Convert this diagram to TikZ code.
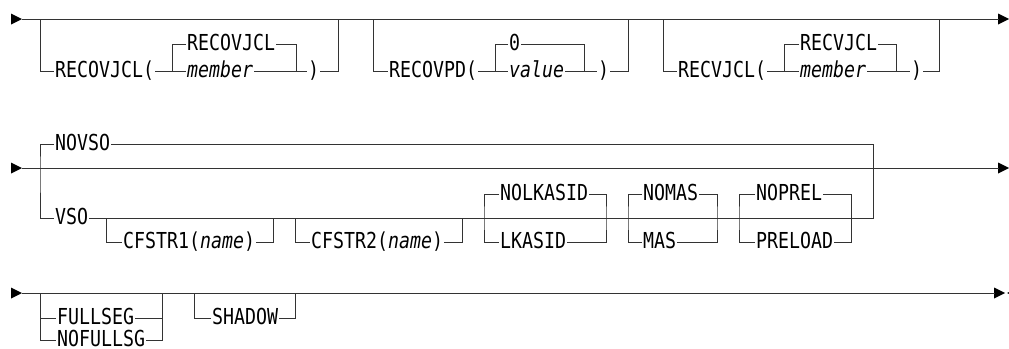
\documentclass[tikz,border=0pt]{standalone}
\usepackage{fontspec}
\newfontfamily\rrfont[FakeStretch=0.83]{DejaVu Sans Mono}
\begin{document}
\begin{tikzpicture}[x=1pt,y=-1pt,
  rr/.style={line width=0.9pt, draw=black!80},
  kw/.style={font=\rrfont\fontsize{22}{22}\selectfont, inner sep=0pt, outer sep=1.2pt,
             text height=12pt, text depth=0pt, anchor=west},
  tri/.pic={\fill[black] (-11,-5.5) -- (0,0) -- (-11,5.5) -- cycle;},
  tril/.pic={\fill[black] (11,-5.5) -- (0,0) -- (11,5.5) -- cycle;}]
\useasboundingbox (0,0) rectangle (1009,348);

% ================= Row 1 =================
\coordinate (s1) at (22,19);
\coordinate (e1) at (999,19);
\pic at (22,19) {tri};
\pic at (1009,19) {tri};
\draw[rr] (s1) -- (e1);

% --- RECOVJCL(...) ---
\coordinate (al) at (40,19);  \coordinate (ar) at (338,19);
\coordinate (ail) at (172,44); \coordinate (air) at (296,44);
\node[kw] (aopen)  at (54,71)  {RECOVJCL(};
\node[kw] (adef)   at (186,44) {RECOVJCL};
\node[kw] (amem)   at (186,71) {\itshape member};
\node[kw] (aclose) at (307,71) {)};
\draw[rr] (al) |- (aopen.west);
\draw[rr] (aopen.east) -- (amem.west);
\draw[rr] (adef.west) -- (ail) -- (ail |- amem.west);
\draw[rr] (adef.east) -- (air) -- (air |- amem.east);
\draw[rr] (amem.east) -- (aclose.west);
\draw[rr] (aclose.east) -| (ar);

% --- RECOVPD(...) ---
\coordinate (bl) at (373,19);  \coordinate (br) at (628,19);
\coordinate (bil) at (495,44); \coordinate (bir) at (584,44);
\node[kw] (bopen)  at (388,71) {RECOVPD(};
\node[kw] (bdef)   at (508,44) {0};
\node[kw] (bval)   at (508,71) {\itshape value};
\node[kw] (bclose) at (597,71) {)};
\draw[rr] (bl) |- (bopen.west);
\draw[rr] (bopen.east) -- (bval.west);
\draw[rr] (bdef.west) -- (bil) -- (bil |- bval.west);
\draw[rr] (bdef.east) -- (bir) -- (bir |- bval.east);
\draw[rr] (bval.east) -- (bclose.west);
\draw[rr] (bclose.east) -| (br);

% --- RECVJCL(...) ---
\coordinate (cl) at (663,19);  \coordinate (cr) at (939,19);
\coordinate (cil) at (784,44); \coordinate (cir) at (896,44);
\node[kw] (copen)  at (677,71) {RECVJCL(};
\node[kw] (cdef)   at (799,44) {RECVJCL};
\node[kw] (cmem)   at (799,71) {\itshape member};
\node[kw] (cclose) at (910,71) {)};
\draw[rr] (cl) |- (copen.west);
\draw[rr] (copen.east) -- (cmem.west);
\draw[rr] (cdef.west) -- (cil) -- (cil |- cmem.west);
\draw[rr] (cdef.east) -- (cir) -- (cir |- cmem.east);
\draw[rr] (cmem.east) -- (cclose.west);
\draw[rr] (cclose.east) -| (cr);

% ================= Row 2 =================
\coordinate (s2) at (22,168);
\coordinate (e2) at (999,168);
\pic at (22,168) {tri};
\pic at (1009,168) {tri};
\draw[rr] (s2) -- (e2);

\coordinate (vl) at (40,168); \coordinate (vr) at (873,168);
\node[kw] (novso) at (54,144)  {NOVSO};
\node[kw] (vso)   at (54,218)  {VSO};
\draw[rr] (novso.west) -| (vl) |- (vso.west);
\draw[rr] (novso.east) -| (vr);
\coordinate (vend) at (873,218);
\draw[rr] (vso.east) -- (vend) -- (vr);

% CFSTR1
\coordinate (f1l) at (106,218); \coordinate (f1r) at (273,218);
\node[kw] (cf1) at (122,242) {CFSTR1(\textit{name})};
\draw[rr] (f1l) |- (cf1.west);
\draw[rr] (cf1.east) -| (f1r);
% CFSTR2
\coordinate (f2l) at (295,218); \coordinate (f2r) at (462,218);
\node[kw] (cf2) at (310,242) {CFSTR2(\textit{name})};
\draw[rr] (f2l) |- (cf2.west);
\draw[rr] (cf2.east) -| (f2r);
% NOLKASID / LKASID
\coordinate (kl) at (484,218); \coordinate (kr) at (606,218);
\node[kw] (nolk) at (499,194) {NOLKASID};
\node[kw] (lk)   at (499,242) {LKASID};
\draw[rr] (nolk.west) -| (kl) |- (lk.west);
\draw[rr] (nolk.east) -| (kr) |- (lk.east);
% NOMAS / MAS
\coordinate (ml) at (628,218); \coordinate (mr) at (717,218);
\node[kw] (nomas) at (642,194) {NOMAS};
\node[kw] (mas)   at (642,242) {MAS};
\draw[rr] (nomas.west) -| (ml) |- (mas.west);
\draw[rr] (nomas.east) -| (mr) |- (mas.east);
% NOPREL / PRELOAD
\coordinate (pl) at (739,218); \coordinate (pr) at (851,218);
\node[kw] (noprel)  at (755,194) {NOPREL};
\node[kw] (preload) at (755,242) {PRELOAD};
\draw[rr] (noprel.west) -| (pl) |- (preload.west);
\draw[rr] (noprel.east) -| (pr) |- (preload.east);

% ================= Row 3 =================
\coordinate (s3) at (22,293);
\coordinate (e3) at (995,293);
\pic at (22,293) {tri};
\pic at (1005,293) {tri};
\pic at (1007,293) {tril};
\draw[rr] (s3) -- (e3);

\coordinate (gl) at (40,293); \coordinate (gr) at (162,293);
\node[kw] (fseg)  at (56,318) {FULLSEG};
\node[kw] (nfseg) at (56,340) {NOFULLSG};
\draw[rr] (gl) |- (fseg.west);
\draw[rr] (gl) |- (nfseg.west);
\draw[rr] (fseg.east) -| (gr);
\draw[rr] (nfseg.east) -| (gr);

\coordinate (hl) at (194,293); \coordinate (hr) at (295,293);
\node[kw] (shadow) at (211,318) {SHADOW};
\draw[rr] (hl) |- (shadow.west);
\draw[rr] (shadow.east) -| (hr);
\end{tikzpicture}
\end{document}
